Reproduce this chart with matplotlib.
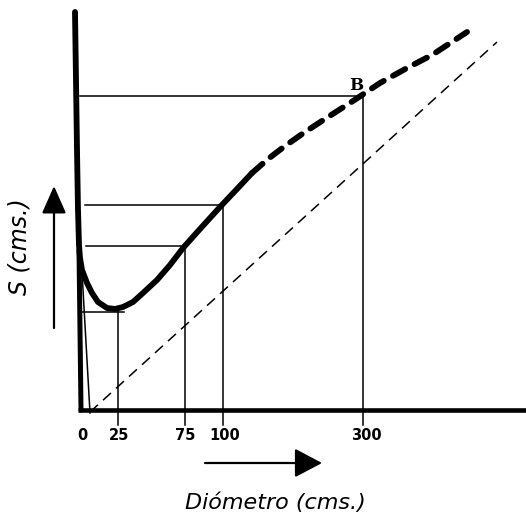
import matplotlib
matplotlib.use("Agg")
import matplotlib.pyplot as plt

# ---- data (chart units: origin at the axis corner) ----
# solid part of the S(d) curve (incl. the steep branch near d=0)
curve_x = [-5, -4, -3, -2, -1, 0, 2, 7, 12, 18, 27, 35, 43, 53, 63, 77, 90,
           103, 120, 140, 157, 172]
curve_y = [398, 330, 260, 200, 165, 152, 140, 127, 117, 108, 102, 101, 103,
           108, 117, 130, 145, 162, 181, 203, 221, 237]
# dashed (extrapolated) part of the curve up to and beyond B
ext_x = [172, 188, 205, 225, 248, 273, 300, 327, 352, 387]
ext_y = [237, 251, 264, 278, 293, 309, 327, 342, 355, 378]
# y-axis drawn as the lower part of the steep branch
yaxis_x = [1, -1]
yaxis_y = [0, 160]
# reference lines
hlines_y = [314, 205, 164, 98]
hlines_x0 = [0, 5, 6, 1]
hlines_x1 = [282, 143, 103, 44]
vlines_x = [38, 105, 143, 283]
vlines_top = [102, 163, 204, 314]
tick_pos = [2, 39, 105, 145, 286]
tick_labels = ["0", "25", "75", "100", "300"]
# thin dashed reference line
diag_x = [10, 417]
diag_y = [-2, 368]
B_point = (276, 324)

fig = plt.figure(figsize=(5.26, 5.17), dpi=100)
ax = fig.add_axes([0, 0, 1, 1])
ax.set_xlim(-80, 446)
ax.set_ylim(-107, 410)
ax.axis("off")

ink = "#000000"

# x axis
ax.plot([-2, 446], [0, 0], color=ink, lw=3.3, solid_capstyle="butt")
# y axis (slightly tilted, hand drawn)
ax.plot(yaxis_x, yaxis_y, color=ink, lw=3.6, solid_capstyle="round")

# thin reference lines
for y, x0, x1 in zip(hlines_y, hlines_x0, hlines_x1):
    ax.plot([x0, x1], [y, y], color=ink, lw=1.1)
for x, top in zip(vlines_x, vlines_top):
    ax.plot([x, x], [-15, top], color=ink, lw=1.1)
ax.plot([10, 2], [-3, 138], color=ink, lw=1.1)

# thin dashed diagonal
ax.plot(diag_x, diag_y, color=ink, lw=1.1, dashes=(7, 4.5))

# main curve
ax.plot(curve_x, curve_y, color=ink, lw=4.2, solid_capstyle="round",
        solid_joinstyle="round")
ax.plot(ext_x, ext_y, color=ink, lw=4.2, dashes=(2.4, 1.8),
        dash_capstyle="round", dash_joinstyle="round")

# B label
ax.text(B_point[0], B_point[1], "B", fontsize=12, fontweight="bold",
        family="DejaVu Serif", ha="center", va="center", color=ink)

# tick labels
for p, lab in zip(tick_pos, tick_labels):
    ax.text(p, -26, lab, fontsize=10.5, fontweight="bold", ha="center",
            va="center", color=ink)

# arrows
ax.annotate("", xy=(-26, 224), xytext=(-26, 82),
            arrowprops=dict(arrowstyle="-|>,head_length=1.7,head_width=0.75",
                            color=ink, lw=1.6, shrinkA=0, shrinkB=0))
ax.annotate("", xy=(242, -53), xytext=(125, -53),
            arrowprops=dict(arrowstyle="-|>,head_length=1.7,head_width=0.9",
                            color=ink, lw=1.6, shrinkA=0, shrinkB=0))

# axis labels
ax.text(-60, 163, "S (cms.)", rotation=90, fontsize=17, style="italic",
        ha="center", va="center", color=ink)
ax.text(195, -93, "Diómetro (cms.)", fontsize=16, style="italic",
        ha="center", va="center", color=ink)

fig.savefig("out.png", dpi=100)
